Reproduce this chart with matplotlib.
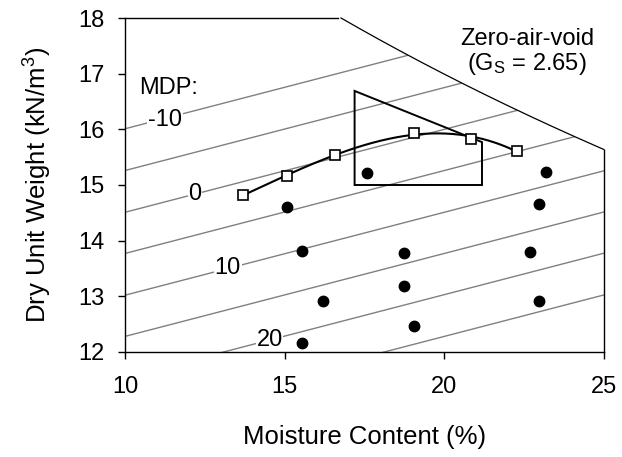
import numpy as np
import matplotlib
matplotlib.use("Agg")
import matplotlib.pyplot as plt
from matplotlib.patches import Polygon

plt.rcParams['font.family'] = ['Liberation Sans', 'DejaVu Sans']
plt.rcParams['mathtext.fontset'] = 'custom'
plt.rcParams['mathtext.rm'] = 'Liberation Sans'
plt.rcParams['mathtext.it'] = 'Liberation Sans:italic'

# compaction test (open squares)
w_comp = [13.68, 15.08, 16.58, 19.04, 20.83, 22.29]
g_comp = [14.82, 15.16, 15.54, 15.94, 15.83, 15.61]

# specimens (filled dots)
w_spec = [17.58, 23.20, 15.08, 15.54, 16.20, 15.55, 22.97, 18.75, 22.68, 18.73, 22.97, 19.04]
g_spec = [15.21, 15.23, 14.60, 13.82, 12.91, 12.16, 14.65, 13.77, 13.80, 13.19, 12.92, 12.46]

# acceptance zone outline
zone_w = [17.19, 21.18, 21.18, 17.19]
zone_g = [16.69, 15.77, 15.00, 15.00]

# MDP lines: value, unit weight at w = 10 %
mdp_vals = [-10, -5, 0, 5, 10, 15, 20, 25]
mdp_g10 = [16.01, 15.26, 14.51, 13.77, 13.02, 12.28, 11.54, 10.79]
mdp_slope = 0.149
mdp_labels = {-10: (11.25, 16.17), 0: (12.19, 14.84), 10: (13.22, 13.50), 20: (14.53, 12.21)}

Gs = 2.65
gw = 9.81


def zav(w):
    return Gs * gw / (1 + np.asarray(w) / 100 * Gs)


fig = plt.figure(figsize=(6.22, 4.57), dpi=100)
ax = fig.add_axes([0.201, 0.2298, 0.77, 0.7308])
ax.set_xlim(10, 25)
ax.set_ylim(12, 18)

# zero-air-void curve and the frame it cuts off
w18 = (Gs * gw / 18 - 1) / Gs * 100
wz = np.linspace(w18, 25, 200)
ax.plot(wz, zav(wz), color='black', lw=0.9, clip_on=False)
ax.plot([10, w18 - 0.08], [18, 18], color='black', lw=1.0, clip_on=False)
ax.plot([25, 25], [zav(25), 12], color='black', lw=1.0, clip_on=False)

# region below the zero-air-void curve, used to clip the MDP lines
clip_pts = [(10, 12), (10, 18)] + list(zip(wz, zav(wz))) + [(25, 12)]
clip_poly = Polygon(clip_pts, closed=True, transform=ax.transData, fill=False, lw=0)
ax.add_patch(clip_poly)
clip_poly.set_visible(False)

xl = np.array([10, 25])
for v, g0 in zip(mdp_vals, mdp_g10):
    ln, = ax.plot(xl, g0 + mdp_slope * (xl - 10), color='#808080', lw=1.0, zorder=1)
    ln.set_clip_path(clip_poly)

for v, (x, y) in mdp_labels.items():
    ax.text(x, y, str(v), fontsize=17, ha='center', va='center', zorder=2,
            bbox=dict(facecolor='white', edgecolor='none', pad=0.5))
ax.text(11.36, 16.74, 'MDP:', fontsize=17, ha='center', va='center')

# zone outline
ax.add_patch(Polygon(list(zip(zone_w, zone_g)), closed=True, fill=False,
                     edgecolor='black', lw=1.4, zorder=3))

# fitted compaction curve
coef = np.polyfit(w_comp, g_comp, 3)
wc = np.linspace(w_comp[0], w_comp[-1], 200)
ax.plot(wc, np.polyval(coef, wc), color='black', lw=1.5, zorder=4)
ax.plot(w_comp, g_comp, 's', ms=7.5, mfc='white', mec='black', mew=1.2, ls='none', zorder=5)

ax.plot(w_spec, g_spec, 'o', ms=7.5, color='black', ls='none', zorder=5)

ax.text(22.61, 17.62, 'Zero-air-void', fontsize=17, ha='center', va='center')
ax.text(22.58, 17.18, r'(G$_\mathrm{S}$ = 2.65)', fontsize=17, ha='center', va='center')

for s in ['top', 'right']:
    ax.spines[s].set_visible(False)
for s in ['left', 'bottom']:
    ax.spines[s].set_linewidth(1.0)

ax.set_xticks([10, 15, 20, 25])
ax.set_yticks(range(12, 19))
ax.tick_params(direction='out', length=5, width=1.0, labelsize=17)
ax.tick_params(axis='x', pad=12)
ax.tick_params(axis='y', pad=10)
ax.set_xlabel('Moisture Content (%)', fontsize=18.5, labelpad=20)
ax.set_ylabel('Dry Unit Weight (kN/m$^3$)', fontsize=18.5, labelpad=17)

fig.savefig('out.png', dpi=100)
